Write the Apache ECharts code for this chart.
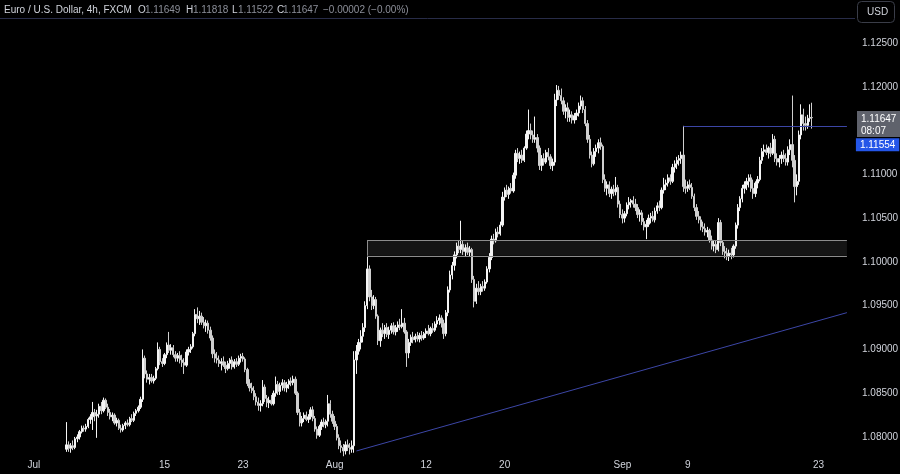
<!DOCTYPE html>
<html><head><meta charset="utf-8">
<script src="https://cdn.jsdelivr.net/npm/echarts@6/dist/echarts.min.js"></script>
<style>html,body{margin:0;padding:0;background:#000;}#c{width:900px;height:474px;}</style>
</head><body><div id="c"></div>
<script>
const FONT = "'Liberation Sans',Arial,sans-serif";
const days = ['06-26','06-27','06-28',
'07-01','07-02','07-03','07-04','07-05','07-08','07-09','07-10','07-11','07-12','07-15','07-16','07-17','07-18','07-19',
'07-22','07-23','07-24','07-25','07-26','07-29','07-30','07-31',
'08-01','08-02','08-05','08-06','08-07','08-08','08-09','08-12','08-13','08-14','08-15','08-16',
'08-19','08-20','08-21','08-22','08-23','08-26','08-27','08-28','08-29','08-30',
'09-02','09-03','09-04','09-05','09-06','09-09','09-10','09-11','09-12','09-13','09-16','09-17','09-18','09-19','09-20',
'09-23','09-24','09-25'];
const hours = ['00','04','08','12','16','20'];
const firstBar = '07-03 12';
// [open, high, low, close] per 4h bar
const ohlc = [
[1.0786,1.0817,1.0783,1.0791],[1.0791,1.0795,1.0783,1.0787],[1.0787,1.0793,1.0782,1.0790],
[1.0790,1.0796,1.0785,1.0788],[1.0788,1.0800,1.0786,1.0798],[1.0798,1.0803,1.0794,1.0800],[1.0800,1.0808,1.0797,1.0806],[1.0806,1.0813,1.0804,1.0810],[1.0810,1.0813,1.0806,1.0809],
[1.0809,1.0815,1.0806,1.0812],[1.0812,1.0822,1.0810,1.0820],[1.0820,1.0826,1.0815,1.0823],[1.0823,1.0840,1.0808,1.0828],[1.0828,1.0832,1.0818,1.0824],[1.0824,1.0831,1.0799,1.0826],
[1.0826,1.0838,1.0822,1.0835],[1.0835,1.0840,1.0826,1.0830],[1.0830,1.0845,1.0828,1.0842],[1.0842,1.0844,1.0832,1.0834],[1.0834,1.0838,1.0824,1.0828],[1.0828,1.0832,1.0820,1.0823],
[1.0823,1.0828,1.0818,1.0825],[1.0825,1.0827,1.0814,1.0816],[1.0816,1.0822,1.0812,1.0819],[1.0819,1.0821,1.0808,1.0810],[1.0810,1.0814,1.0805,1.0808],[1.0808,1.0815,1.0806,1.0813],
[1.0813,1.0818,1.0809,1.0816],[1.0816,1.0820,1.0812,1.0814],[1.0814,1.0823,1.0812,1.0821],[1.0821,1.0826,1.0817,1.0819],[1.0819,1.0829,1.0817,1.0827],[1.0827,1.0832,1.0824,1.0830],
[1.0830,1.0836,1.0828,1.0834],[1.0834,1.0846,1.0832,1.0843],[1.0843,1.0900,1.0840,1.0890],[1.0890,1.0893,1.0867,1.0872],[1.0872,1.0876,1.0862,1.0866],[1.0866,1.0872,1.0860,1.0868],
[1.0868,1.0872,1.0862,1.0864],[1.0864,1.0870,1.0861,1.0867],[1.0867,1.0880,1.0865,1.0878],[1.0878,1.0908,1.0876,1.0900],[1.0900,1.0903,1.0882,1.0886],[1.0886,1.0890,1.0880,1.0884],
[1.0884,1.0896,1.0882,1.0894],[1.0894,1.0908,1.0890,1.0905],[1.0905,1.0920,1.0896,1.0899],[1.0899,1.0906,1.0894,1.0902],[1.0902,1.0905,1.0891,1.0894],[1.0894,1.0898,1.0886,1.0890],
[1.0890,1.0896,1.0886,1.0893],[1.0893,1.0898,1.0884,1.0888],[1.0888,1.0894,1.0880,1.0885],[1.0885,1.0890,1.0872,1.0882],[1.0882,1.0900,1.0880,1.0897],[1.0897,1.0903,1.0893,1.0900],
[1.0900,1.0906,1.0896,1.0903],[1.0903,1.0920,1.0901,1.0918],[1.0918,1.0946,1.0915,1.0940],[1.0940,1.0948,1.0930,1.0935],[1.0935,1.0944,1.0928,1.0938],[1.0938,1.0942,1.0928,1.0931],
[1.0931,1.0937,1.0924,1.0927],[1.0927,1.0934,1.0920,1.0930],[1.0930,1.0933,1.0918,1.0922],[1.0922,1.0926,1.0910,1.0913],[1.0913,1.0916,1.0890,1.0895],[1.0895,1.0900,1.0885,1.0890],
[1.0890,1.0897,1.0884,1.0888],[1.0888,1.0893,1.0880,1.0884],[1.0884,1.0890,1.0876,1.0886],[1.0886,1.0892,1.0880,1.0882],[1.0882,1.0886,1.0873,1.0878],[1.0878,1.0887,1.0876,1.0884],
[1.0884,1.0890,1.0878,1.0888],[1.0888,1.0892,1.0877,1.0880],[1.0880,1.0889,1.0878,1.0886],[1.0886,1.0890,1.0880,1.0883],[1.0883,1.0893,1.0881,1.0890],[1.0890,1.0895,1.0885,1.0892],
[1.0892,1.0896,1.0886,1.0889],[1.0889,1.0891,1.0874,1.0877],[1.0877,1.0879,1.0858,1.0861],[1.0861,1.0866,1.0852,1.0856],[1.0856,1.0862,1.0850,1.0853],[1.0853,1.0858,1.0842,1.0846],
[1.0846,1.0850,1.0836,1.0840],[1.0840,1.0845,1.0830,1.0836],[1.0836,1.0842,1.0829,1.0838],[1.0838,1.0865,1.0835,1.0857],[1.0857,1.0860,1.0840,1.0844],[1.0844,1.0848,1.0834,1.0839],
[1.0839,1.0846,1.0833,1.0842],[1.0842,1.0848,1.0836,1.0838],[1.0838,1.0853,1.0836,1.0850],[1.0850,1.0869,1.0846,1.0860],[1.0860,1.0864,1.0848,1.0852],[1.0852,1.0862,1.0848,1.0859],
[1.0859,1.0866,1.0853,1.0862],[1.0862,1.0865,1.0852,1.0856],[1.0856,1.0863,1.0851,1.0860],[1.0860,1.0866,1.0855,1.0864],[1.0864,1.0868,1.0858,1.0862],[1.0862,1.0870,1.0859,1.0866],
[1.0866,1.0869,1.0848,1.0850],[1.0850,1.0852,1.0825,1.0828],[1.0828,1.0832,1.0812,1.0816],[1.0816,1.0824,1.0812,1.0821],[1.0821,1.0828,1.0817,1.0825],[1.0825,1.0829,1.0818,1.0820],
[1.0820,1.0826,1.0816,1.0823],[1.0823,1.0834,1.0820,1.0831],[1.0831,1.0835,1.0818,1.0821],[1.0821,1.0824,1.0806,1.0809],[1.0809,1.0812,1.0798,1.0802],[1.0802,1.0814,1.0800,1.0812],
[1.0812,1.0820,1.0808,1.0817],[1.0817,1.0822,1.0811,1.0814],[1.0814,1.0820,1.0810,1.0818],[1.0818,1.0848,1.0812,1.0838],[1.0838,1.0842,1.0822,1.0826],[1.0826,1.0830,1.0815,1.0818],
[1.0818,1.0824,1.0808,1.0812],[1.0812,1.0815,1.0796,1.0799],[1.0799,1.0803,1.0786,1.0790],[1.0790,1.0796,1.0782,1.0788],[1.0788,1.0792,1.0778,1.0784],[1.0784,1.0795,1.0780,1.0791],
[1.0791,1.0797,1.0784,1.0788],[1.0788,1.0793,1.0780,1.0786],[1.0786,1.0796,1.0782,1.0790],[1.0790,1.0898,1.0782,1.0888],[1.0888,1.0905,1.0872,1.0898],[1.0898,1.0912,1.0894,1.0908],
[1.0908,1.0922,1.0900,1.0915],[1.0915,1.0930,1.0908,1.0925],[1.0925,1.0955,1.0920,1.0950],[1.0950,1.1006,1.0946,1.0992],[1.0992,1.0996,1.0955,1.0960],[1.0960,1.0968,1.0945,1.0950],
[1.0950,1.0962,1.0946,1.0957],[1.0957,1.0960,1.0935,1.0938],[1.0938,1.0940,1.0905,1.0910],[1.0910,1.0925,1.0903,1.0922],[1.0922,1.0930,1.0914,1.0918],[1.0918,1.0928,1.0912,1.0925],
[1.0925,1.0930,1.0914,1.0917],[1.0917,1.0926,1.0912,1.0922],[1.0922,1.0930,1.0918,1.0927],[1.0927,1.0931,1.0917,1.0920],[1.0920,1.0928,1.0916,1.0925],[1.0925,1.0932,1.0920,1.0928],
[1.0928,1.0935,1.0922,1.0926],[1.0926,1.0946,1.0924,1.0930],[1.0930,1.0936,1.0918,1.0920],[1.0920,1.0922,1.0880,1.0896],[1.0896,1.0912,1.0890,1.0908],[1.0908,1.0917,1.0904,1.0914],
[1.0914,1.0920,1.0907,1.0911],[1.0911,1.0918,1.0908,1.0915],[1.0915,1.0920,1.0909,1.0912],[1.0912,1.0919,1.0908,1.0916],[1.0916,1.0921,1.0910,1.0913],[1.0913,1.0920,1.0911,1.0918],
[1.0918,1.0924,1.0913,1.0921],[1.0921,1.0928,1.0916,1.0918],[1.0918,1.0926,1.0915,1.0924],[1.0924,1.0930,1.0919,1.0922],[1.0922,1.0932,1.0920,1.0929],[1.0929,1.0938,1.0925,1.0933],
[1.0933,1.0940,1.0928,1.0936],[1.0936,1.0939,1.0925,1.0930],[1.0930,1.0934,1.0912,1.0918],[1.0918,1.0945,1.0915,1.0942],[1.0942,1.0972,1.0938,1.0968],[1.0968,1.0990,1.0965,1.0985],
[1.0985,1.1000,1.0980,1.0996],[1.0996,1.1012,1.0990,1.1008],[1.1008,1.1022,1.1004,1.1018],[1.1018,1.1025,1.1010,1.1014],[1.1014,1.1047,1.1010,1.1020],[1.1020,1.1024,1.1008,1.1012],
[1.1012,1.1020,1.1006,1.1016],[1.1016,1.1022,1.1008,1.1011],[1.1011,1.1018,1.1006,1.1014],[1.1014,1.1016,1.0976,1.0980],[1.0980,1.0984,1.0948,1.0955],[1.0955,1.0975,1.0952,1.0970],
[1.0970,1.0978,1.0962,1.0966],[1.0966,1.0975,1.0962,1.0972],[1.0972,1.0978,1.0966,1.0970],[1.0970,1.0980,1.0967,1.0977],[1.0977,1.0995,1.0975,1.0992],[1.0992,1.1010,1.0988,1.1005],
[1.1005,1.1030,1.1002,1.1026],[1.1026,1.1032,1.1020,1.1024],[1.1024,1.1038,1.1022,1.1034],[1.1034,1.1040,1.1028,1.1032],[1.1032,1.1046,1.1030,1.1042],[1.1042,1.1080,1.1040,1.1074],
[1.1074,1.1085,1.1070,1.1082],[1.1082,1.1088,1.1074,1.1077],[1.1077,1.1086,1.1072,1.1084],[1.1084,1.1090,1.1078,1.1081],[1.1081,1.1102,1.1079,1.1099],[1.1099,1.1128,1.1095,1.1124],
[1.1124,1.1130,1.1114,1.1118],[1.1118,1.1126,1.1112,1.1122],[1.1122,1.1128,1.1113,1.1116],[1.1116,1.1132,1.1114,1.1130],[1.1130,1.1150,1.1128,1.1146],[1.1146,1.1174,1.1140,1.1150],
[1.1150,1.1158,1.1140,1.1145],[1.1145,1.1150,1.1136,1.1140],[1.1140,1.1166,1.1136,1.1142],[1.1142,1.1146,1.1125,1.1130],[1.1130,1.1133,1.1105,1.1110],[1.1110,1.1122,1.1104,1.1118],
[1.1118,1.1124,1.1110,1.1114],[1.1114,1.1128,1.1112,1.1125],[1.1125,1.1130,1.1116,1.1120],[1.1120,1.1123,1.1106,1.1110],[1.1110,1.1118,1.1104,1.1114],[1.1114,1.1192,1.1110,1.1185],
[1.1185,1.1202,1.1178,1.1196],[1.1196,1.1201,1.1185,1.1190],[1.1190,1.1198,1.1180,1.1184],[1.1184,1.1188,1.1168,1.1172],[1.1172,1.1180,1.1164,1.1176],[1.1176,1.1182,1.1160,1.1165],
[1.1165,1.1174,1.1160,1.1168],[1.1168,1.1172,1.1158,1.1162],[1.1162,1.1170,1.1158,1.1167],[1.1167,1.1174,1.1162,1.1170],[1.1170,1.1182,1.1166,1.1178],[1.1178,1.1190,1.1174,1.1184],
[1.1184,1.1188,1.1170,1.1174],[1.1174,1.1178,1.1155,1.1158],[1.1158,1.1162,1.1136,1.1140],[1.1140,1.1145,1.1118,1.1122],[1.1122,1.1126,1.1108,1.1112],[1.1112,1.1130,1.1110,1.1126],
[1.1126,1.1134,1.1120,1.1130],[1.1130,1.1140,1.1124,1.1136],[1.1136,1.1142,1.1128,1.1132],[1.1132,1.1134,1.1090,1.1094],[1.1094,1.1100,1.1080,1.1084],[1.1084,1.1092,1.1076,1.1088],
[1.1088,1.1092,1.1074,1.1078],[1.1078,1.1086,1.1072,1.1083],[1.1083,1.1088,1.1075,1.1080],[1.1080,1.1097,1.1076,1.1085],[1.1085,1.1088,1.1062,1.1066],[1.1066,1.1070,1.1050,1.1054],
[1.1054,1.1060,1.1044,1.1050],[1.1050,1.1058,1.1045,1.1055],[1.1055,1.1068,1.1052,1.1065],[1.1065,1.1074,1.1060,1.1068],[1.1068,1.1072,1.1062,1.1070],[1.1070,1.1075,1.1062,1.1066],
[1.1066,1.1072,1.1058,1.1062],[1.1062,1.1066,1.1050,1.1054],[1.1054,1.1060,1.1046,1.1056],[1.1056,1.1059,1.1042,1.1046],[1.1046,1.1050,1.1036,1.1040],[1.1040,1.1048,1.1026,1.1043],
[1.1043,1.1054,1.1040,1.1050],[1.1050,1.1056,1.1044,1.1052],[1.1052,1.1058,1.1046,1.1048],[1.1048,1.1062,1.1045,1.1058],[1.1058,1.1068,1.1055,1.1064],[1.1064,1.1070,1.1058,1.1062],
[1.1062,1.1085,1.1060,1.1082],[1.1082,1.1096,1.1078,1.1088],[1.1088,1.1094,1.1082,1.1090],[1.1090,1.1100,1.1086,1.1096],[1.1096,1.1100,1.1088,1.1092],[1.1092,1.1112,1.1090,1.1108],
[1.1108,1.1116,1.1102,1.1112],[1.1112,1.1120,1.1106,1.1116],[1.1116,1.1122,1.1110,1.1118],[1.1118,1.1126,1.1112,1.1122],[1.1122,1.11554,1.1080,1.1086],[1.1086,1.1094,1.1078,1.1084],
[1.1084,1.1092,1.1080,1.1088],[1.1088,1.1094,1.1082,1.1085],[1.1085,1.1090,1.1072,1.1075],[1.1075,1.1078,1.1058,1.1062],[1.1062,1.1066,1.1048,1.1052],[1.1052,1.1058,1.1044,1.1048],
[1.1048,1.1052,1.1036,1.1040],[1.1040,1.1046,1.1034,1.1038],[1.1038,1.1044,1.1030,1.1034],[1.1034,1.1040,1.1028,1.1036],[1.1036,1.1038,1.1022,1.1025],[1.1025,1.1030,1.1014,1.1018],
[1.1018,1.1025,1.1012,1.1020],[1.1020,1.1024,1.1010,1.1014],[1.1014,1.1050,1.1012,1.1045],[1.1045,1.1048,1.1018,1.1022],[1.1022,1.1025,1.1008,1.1012],[1.1012,1.1018,1.1004,1.1010],
[1.1010,1.1016,1.1002,1.1006],[1.1006,1.1014,1.1001,1.1010],[1.1010,1.1016,1.1003,1.1008],[1.1008,1.1020,1.1005,1.1018],[1.1018,1.1045,1.1015,1.1042],[1.1042,1.1066,1.1038,1.1062],
[1.1062,1.1075,1.1058,1.1072],[1.1072,1.1088,1.1068,1.1084],[1.1084,1.1092,1.1078,1.1088],[1.1088,1.1096,1.1082,1.1092],[1.1092,1.1100,1.1085,1.1096],[1.1096,1.1100,1.1080,1.1084],
[1.1084,1.1094,1.1072,1.1078],[1.1078,1.1092,1.1074,1.1090],[1.1090,1.1098,1.1084,1.1094],[1.1094,1.1120,1.1092,1.1116],[1.1116,1.1130,1.1112,1.1126],[1.1126,1.1134,1.1120,1.1128],
[1.1128,1.1134,1.1122,1.1125],[1.1125,1.1132,1.1118,1.1130],[1.1130,1.1136,1.1120,1.1124],[1.1124,1.1146,1.1122,1.1140],[1.1140,1.1144,1.1114,1.1118],[1.1118,1.1124,1.1110,1.1114],
[1.1114,1.1122,1.1108,1.1118],[1.1118,1.1126,1.1112,1.1122],[1.1122,1.1128,1.1114,1.1118],[1.1118,1.1124,1.1110,1.1114],[1.1114,1.1132,1.1110,1.1128],[1.1128,1.1140,1.1122,1.1134],
[1.1134,1.1190,1.1108,1.1116],[1.1116,1.1122,1.1068,1.1086],[1.1086,1.1100,1.1076,1.1092],[1.1092,1.1150,1.1088,1.1145],[1.1145,1.1180,1.1140,1.1168],[1.1168,1.1175,1.1150,1.1158],
[1.1158,1.1166,1.1150,1.1156],[1.1156,1.1168,1.1152,1.1164],[1.1164,1.1180,1.1160,1.1165],[1.11649,1.11818,1.11522,1.11647]
];
// price-scale labels shown in the picture (1.11500 is covered by the price tags there)
const yTicks = [1.080,1.085,1.090,1.095,1.100,1.105,1.110,1.120,1.125];
const yMin = 1.07794, yMax = 1.12763;
const xTickLabels = {'07-01 00':'Jul','07-15 00':'15','07-23 00':'23','08-01 00':'Aug','08-12 00':'12','08-20 00':'20','09-02 00':'Sep','09-09 00':'9','09-23 00':'23'};
const trendLine = [['08-02 16', 1.0784], ['09-25 04', 1.0942]];
const resistance = {from:'09-06 16', to:'09-25 04', price:1.11554};
const zone = {from:'08-05 12', to:'09-25 04', low:1.1007, high:1.1025};
const last = {open:'1.11649', high:'1.11818', low:'1.11522', close:1.11647, change:'\u22120.00002 (\u22120.00%)', countdown:'08:07'};
const title = 'Euro / U.S. Dollar, 4h, FXCM';

const categories = [];
days.forEach(d => hours.forEach(h => categories.push(d + ' ' + h)));
const cats = categories.slice(3, 392);
const start = cats.indexOf(firstBar);
const data = cats.map((c, i) => {
  const r = ohlc[i - start];
  return r ? [r[0], r[3], r[2], r[1]] : ['-','-','-','-'];
});

const TXT = '#d1d4dc', GRAY = '#8c8f99', LINE = '#3c46a6', ZONE = '#8d8d8d';
const chart = echarts.init(document.getElementById('c'), null, {renderer:'canvas'});
const hdr = (text, x, color) => ({type:'text', left:x, top:5, style:{text, fill:color, font:'10px ' + FONT}, silent:true});
const seg = (a, b, color) => [{coord:a, lineStyle:{color, width:1, type:'solid'}, label:{show:false}}, {coord:b}];
const graphics = [
  {type:'line', shape:{x1:0, y1:18.5, x2:855, y2:18.5}, style:{stroke:'#282c48', lineWidth:1}, silent:true},
  {type:'rect', shape:{x:857.5, y:1.5, width:37, height:21, r:4}, style:{fill:'#000', stroke:'#3a3d48', lineWidth:1}, silent:true},
  {type:'text', left:867, top:7, style:{text:'USD', fill:TXT, font:'10px ' + FONT}, silent:true},
  hdr(title, 4, TXT),
  hdr('O', 138, TXT), hdr(last.open, 145, GRAY),
  hdr('H', 186, TXT), hdr(last.high, 193, GRAY),
  hdr('L', 232, TXT), hdr(last.low, 238, GRAY),
  hdr('C', 277, TXT), hdr(last.close.toFixed(5), 283, GRAY),
  hdr(last.change, 323, GRAY)
];
chart.setOption({
  backgroundColor:'#000000',
  animation:false,
  textStyle:{fontFamily:FONT},
  grid:{left:0, right:52, top:20, bottom:19, outerBoundsMode:'none', containLabel:false},
  xAxis:{type:'category', data:cats, boundaryGap:true,
    axisLine:{show:false}, axisTick:{show:false}, splitLine:{show:false},
    axisLabel:{color:TXT, fontSize:10, fontFamily:FONT, margin:5, hideOverlap:false,
      interval:(i, v) => xTickLabels[v] !== undefined,
      formatter:v => xTickLabels[v] || ''}},
  yAxis:{type:'value', position:'right', min:yMin, max:yMax, scale:true,
    axisLine:{show:false}, axisTick:{show:false}, splitLine:{show:false},
    axisLabel:{color:TXT, fontSize:10, fontFamily:FONT, margin:14, customValues:yTicks,
      formatter:v => v.toFixed(5)}},
  series:[{
    type:'candlestick', data, barWidth:1.8, clip:true,
    itemStyle:{color:'#f4f4f4', color0:'#cfcfcf', borderColor:'#f4f4f4', borderColor0:'#cfcfcf', borderWidth:1},
    markArea:{silent:true, z:1, itemStyle:{color:'#151515', borderWidth:0},
      data:[[{coord:[zone.from, zone.high]}, {coord:[zone.to, zone.low]}]]},
    markLine:{silent:true, symbol:['none','none'], animation:false,
      data:[
        seg(trendLine[0], trendLine[1], LINE),
        seg([zone.from, zone.high], [zone.to, zone.high], ZONE),
        seg([zone.from, zone.low], [zone.to, zone.low], ZONE),
        seg([zone.from, zone.low], [zone.from, zone.high], ZONE),
        [{coord:[resistance.from, resistance.price], lineStyle:{color:LINE, width:1, type:'solid'},
          label:{show:true, position:'end', distance:9, offset:[0,19], formatter:resistance.price.toFixed(5),
            color:'#ffffff', backgroundColor:'#2456e8', padding:[2,4,1,4], fontSize:10, fontFamily:FONT}},
         {coord:[resistance.to, resistance.price]}]
      ]}
  }],
  graphic:graphics
});
// current-price tag placed with the y axis scale
const yC = chart.convertToPixel({yAxisIndex:0}, last.close);
graphics.push(
  {type:'rect', shape:{x:857, y:Math.round(yC) - 7, width:43, height:26}, style:{fill:'#5f626c'}, silent:true},
  {type:'text', left:861, top:Math.round(yC) - 5, style:{text:last.close.toFixed(5) + '\n' + last.countdown, fill:'#ffffff', font:'10px ' + FONT, lineHeight:12}, silent:true}
);
chart.setOption({graphic:graphics});
</script></body></html>
